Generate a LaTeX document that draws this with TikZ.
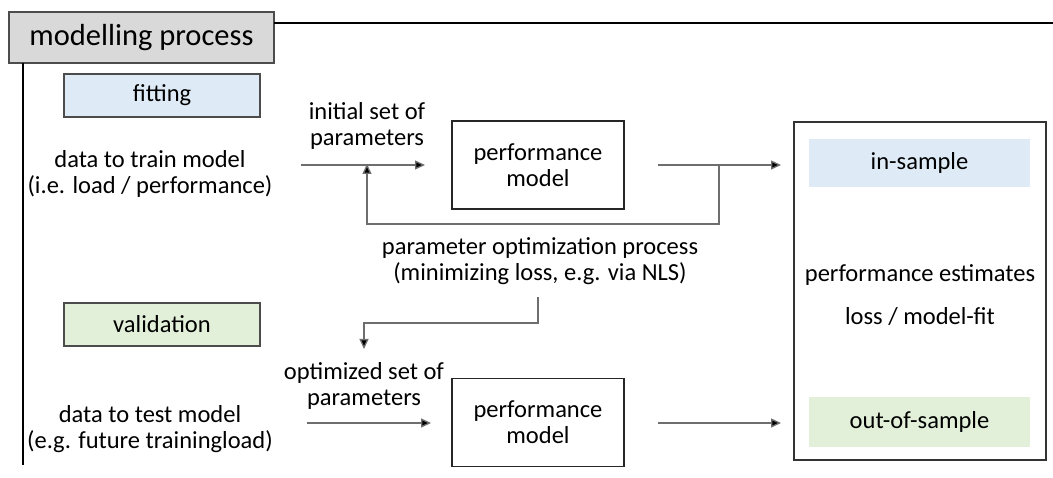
\documentclass[tikz,border=0pt]{standalone}
\usepackage{fontspec}
\setmainfont{Carlito}
\usetikzlibrary{arrows.meta}
\usetikzlibrary{positioning}
\definecolor{headgray}{RGB}{217,217,217}
\definecolor{fitblue}{RGB}{222,235,247}
\definecolor{valgreen}{RGB}{226,240,217}
\definecolor{linegray}{RGB}{110,110,110}

\tikzset{
  txt/.style={align=center, inner sep=0pt, font=\fontsize{24.5}{26}\selectfont},
  box/.style={draw=black!85, line width=1.6pt, minimum width=172pt, minimum height=88pt, txt},
  tag/.style={draw=black!70, line width=1.1pt, minimum width=196pt, minimum height=43pt, txt},
  flow/.style={draw=linegray, line width=1.3pt, -{Triangle[length=10pt,width=9pt,fill=black]}},
  wire/.style={draw=linegray, line width=1.3pt}
}

\begin{document}
\begin{tikzpicture}[x=1pt,y=-1pt]
  \useasboundingbox (0,0) rectangle (1053,478);

  % frame of the process
  \node[draw=black!70, line width=1.4pt, fill=headgray, minimum width=265pt, minimum height=51pt,
        inner sep=0pt, font=\fontsize{30.5}{32}\selectfont] (head) at (141.5,37.5) {modelling process};
  \coordinate (topA) at (274,23);
  \coordinate (topB) at (1053,23);
  \coordinate (leftA) at (23,63);
  \coordinate (leftB) at (23,465);
  \draw[line width=1.6pt] (topA) -- (topB);
  \draw[line width=1.6pt] (leftA) -- (leftB);

  % fitting
  \node[tag, fill=fitblue] (fit) at (162,95.5) {fitting};
  \node[txt] (train) at (150,174) {data to train model\\(i.e. load / performance)};
  \node[txt] (initpar) at (367,126) {initial set of\\parameters};
  \node[box] (perfA) at (538,165) {performance\\model};
  \coordinate (inA) at (301,165);
  \coordinate (tipA) at (425,165);
  \coordinate (outA) at (658,165);
  \coordinate (resA) at (781,165);
  \coordinate (fbA) at (719,165);
  \coordinate (fbB) at (719,224);
  \coordinate (fbC) at (367,224);
  \coordinate (fbD) at (367,164);
  \draw[flow] (inA) -- (tipA);
  \draw[flow] (outA) -- (resA);
  \draw[flow] (fbA) -- (fbB) -- (fbC) -- (fbD);

  \node[txt] (optim) at (540,261) {parameter optimization process\\(minimizing loss, e.g. via NLS)};
  \coordinate (opA) at (538,297);
  \coordinate (opB) at (538,323);
  \coordinate (opC) at (364,323);
  \coordinate (opD) at (364,349);
  \draw[flow] (opA) -- (opB) -- (opC) -- (opD);

  % validation
  \node[tag, fill=valgreen] (valid) at (162,324.5) {validation};
  \node[txt] (test) at (150,429) {data to test model\\(e.g. future trainingload)};
  \node[txt] (optpar) at (364,386) {optimized set of\\parameters};
  \node[box] (perfB) at (538,422.5) {performance\\model};
  \coordinate (inB) at (307,423);
  \coordinate (tipB) at (431,423);
  \coordinate (outB) at (658,423);
  \coordinate (resB) at (781,423);
  \draw[flow] (inB) -- (tipB);
  \draw[flow] (outB) -- (resB);

  % estimates
  \node[draw=black!80, line width=1.6pt, minimum width=252pt, minimum height=338pt] (res) at (920,291) {};
  \node[txt, fill=fitblue, minimum width=221pt, minimum height=48pt] (insam) at (919.5,163) {in-sample};
  \node[txt, fill=valgreen, minimum width=221pt, minimum height=50pt] (outsam) at (919.5,422) {out-of-sample};
  \node[txt] (estim) at (920,275) {performance estimates};
  \node[txt] (lossfit) at (920,317) {loss / model-fit};
\end{tikzpicture}
\end{document}
